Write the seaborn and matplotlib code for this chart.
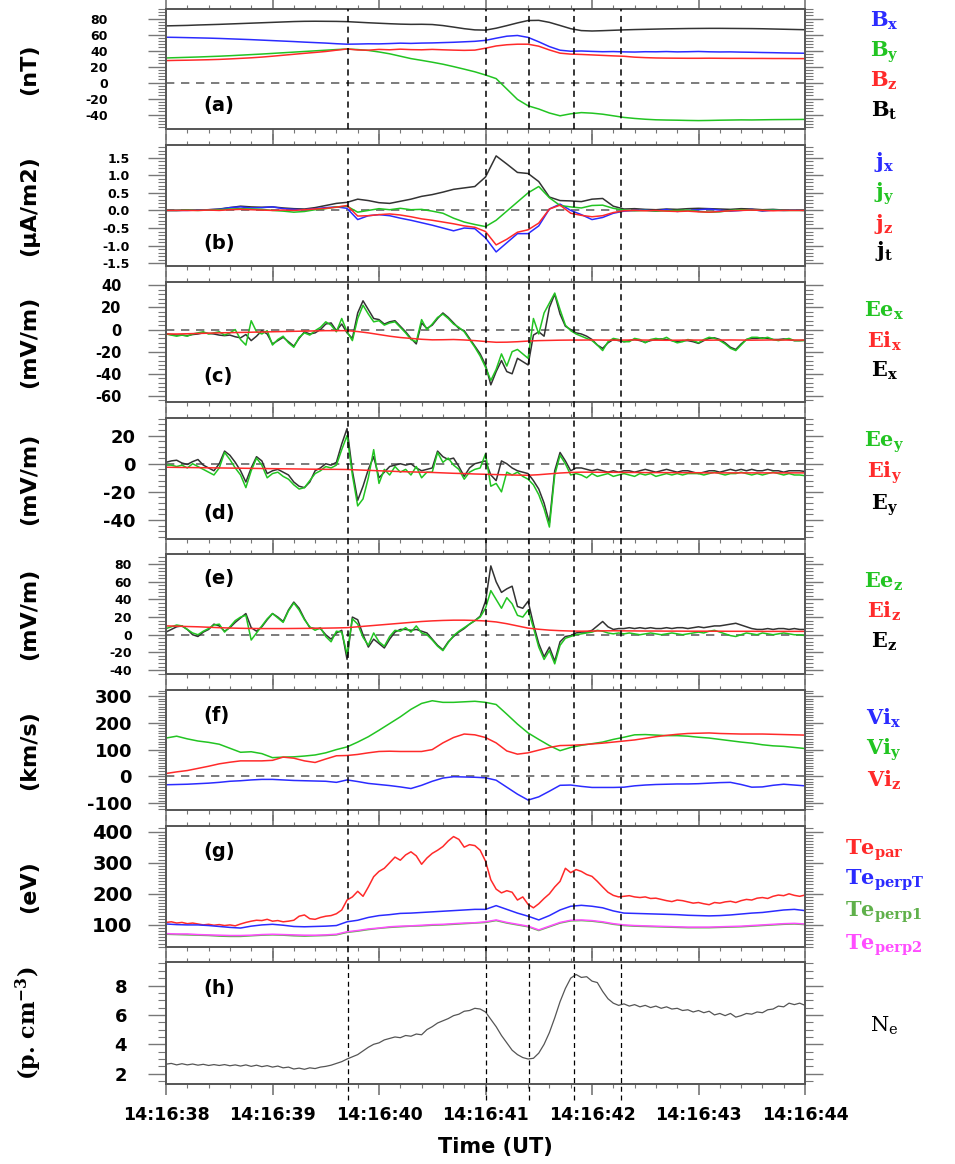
import numpy as np
import matplotlib
matplotlib.use("Agg")
import matplotlib.pyplot as plt
import seaborn as sns
from matplotlib.ticker import MultipleLocator, FixedLocator, FormatStrFormatter

# ---------------- data (time in s after 14:16:38) ----------------
t10 = np.round(np.linspace(0, 6, 61), 2)
t05 = np.round(np.linspace(0, 6, 121), 3)
time_ticks = [0, 1, 2, 3, 4, 5, 6]
time_labels = ["14:16:38", "14:16:39", "14:16:40", "14:16:41", "14:16:42", "14:16:43", "14:16:44"]
event_times = [1.71, 3.00, 3.41, 3.83, 4.27]

Bx = [56.7,56.5,56.2,55.9,55.6,55.2,54.7,54.2,53.7,53.1,52.5,51.9,51.3,50.6,50.0,49.4,48.6,48.0,48.2,48.5,
      48.4,48.8,49.3,49.0,49.4,49.6,50.0,50.4,51.0,51.6,52.8,55.5,58.0,58.9,56.5,51.0,45.0,40.5,39.2,39.5,
      39.0,38.6,38.8,38.4,38.2,38.6,38.5,38.8,38.4,38.6,38.9,38.5,38.3,38.4,38.1,37.9,37.6,37.4,37.1,36.9,36.7]
By = [30.8,31.2,31.6,32.0,32.5,33.0,33.6,34.3,35.0,35.7,36.5,37.3,38.1,38.9,39.7,40.5,41.3,42.0,41.3,40.2,
      38.3,36.0,33.0,30.0,27.8,25.5,23.0,20.0,16.8,13.5,9.5,5.0,-8.0,-21.0,-29.0,-33.0,-38.0,-41.5,-39.0,-37.5,
      -38.2,-39.5,-41.5,-43.5,-44.8,-45.8,-46.5,-46.8,-47.0,-47.3,-47.5,-47.3,-47.0,-46.8,-46.6,-46.7,-46.5,-46.3,-46.2,-46.1,-46.0]
Bz = [27.5,27.8,28.0,28.3,28.6,29.0,29.6,30.3,31.0,31.9,33.0,34.2,35.4,36.6,37.7,38.9,40.5,42.0,40.8,40.5,
      41.5,41.0,41.8,41.2,41.0,41.5,41.0,40.6,40.3,40.6,43.0,45.8,47.3,48.0,48.0,45.5,40.8,36.8,35.6,35.2,
      34.6,34.0,33.4,32.9,31.8,31.2,30.8,30.6,30.5,30.4,30.4,30.5,30.4,30.3,30.3,30.2,30.2,30.1,30.1,30.0,30.0]
Bt = [70.9,71.2,71.5,72.0,72.4,72.8,73.3,73.8,74.3,74.8,75.3,75.8,76.3,76.6,76.7,76.6,76.5,76.2,75.5,74.8,
      74.2,73.6,73.1,72.8,72.9,72.6,71.3,69.4,67.4,65.9,65.6,68.0,71.2,74.6,77.6,77.8,75.3,71.4,67.4,65.0,
      64.5,64.9,65.4,65.9,66.3,66.6,66.9,67.2,67.4,67.6,67.7,67.8,67.8,67.7,67.6,67.5,67.3,67.0,66.7,66.4,66.1]

jx = [0.00,0.00,0.00,0.01,0.02,0.03,0.08,0.10,0.07,0.08,0.10,0.05,0.03,0.02,0.05,0.08,0.10,0.06,-0.26,-0.15,
      -0.12,-0.15,-0.22,-0.28,-0.35,-0.42,-0.50,-0.58,-0.50,-0.52,-0.78,-1.18,-0.92,-0.66,-0.66,-0.44,0.04,0.18,0.00,-0.12,
      -0.26,-0.20,-0.08,-0.02,0.00,0.01,-0.02,0.03,-0.03,0.00,0.02,0.04,0.01,-0.02,0.00,0.03,-0.02,0.01,0.00,0.01,0.00]
jy = [0.00,0.00,0.01,0.00,0.01,0.02,0.04,0.05,0.04,0.03,0.00,-0.02,-0.05,-0.03,0.02,0.05,0.10,0.12,-0.05,0.00,
      0.05,0.02,0.06,0.02,0.03,-0.02,-0.08,-0.22,-0.33,-0.40,-0.46,-0.28,-0.02,0.24,0.50,0.68,0.36,0.14,0.10,0.07,
      0.14,0.15,0.06,0.01,-0.01,0.00,-0.02,-0.01,0.00,0.01,-0.03,-0.05,-0.04,0.00,0.02,0.01,0.00,0.01,0.00,0.00,0.00]
jz = [0.00,0.00,0.00,0.00,0.01,0.00,0.02,0.03,0.02,0.01,0.00,0.01,0.00,0.02,0.04,0.06,0.09,0.14,-0.16,-0.15,
      -0.12,-0.10,-0.13,-0.18,-0.24,-0.28,-0.33,-0.38,-0.44,-0.48,-0.60,-0.98,-0.82,-0.62,-0.55,-0.36,0.04,0.15,-0.08,-0.14,
      -0.18,-0.15,-0.06,-0.01,0.00,-0.01,0.00,-0.02,-0.03,-0.02,-0.04,-0.05,-0.03,-0.01,0.00,0.01,0.00,-0.01,0.00,0.00,0.00]
jt = [0.00,0.00,0.01,0.01,0.02,0.04,0.08,0.12,0.10,0.09,0.10,0.07,0.05,0.04,0.08,0.14,0.20,0.23,0.32,0.28,
      0.22,0.20,0.26,0.32,0.40,0.45,0.52,0.60,0.64,0.68,0.95,1.55,1.32,1.08,1.05,0.82,0.38,0.28,0.27,0.25,
      0.32,0.34,0.12,0.04,0.05,0.03,0.02,0.04,0.03,0.05,0.06,0.05,0.04,0.03,0.05,0.04,0.02,0.03,0.01,0.01,0.00]

Ee_x = [-4,-5,-6,-5,-6,-4,-3,-2,-4,-3, -2,-5,-3,0,-9,-14,8,-2,-4,-1, -14,-9,-6,-12,-16,-7,-3,-5,-1,2,
        7,4,-2,10,-2,-10,10,22,14,7, 8,4,6,7,2,-3,-9,-11,9,0, 5,11,14,10,5,2,-2,-9,-16,-24,
        -34,-46,-36,-22,-33,-20,-18,-22,-26,10, -4,15,24,33,18,4,-1,-4,-6,-8, -10,-14,-19,-11,-8,-9,-11,-11,-8,-9,
        -12,-9,-8,-9,-7,-10,-12,-11,-9,-10, -12,-9,-7,-8,-10,-13,-17,-19,-14,-9, -7,-7,-8,-7,-9,-10,-9,-8,-10,-10, -10]
E_x = [-4,-4.5,-5,-5,-5.5,-4.5,-4,-3,-3.5,-4, -5,-5.5,-5,-6.5,-7.5,-4.5,-10,-6,-1,-4, -13,-10,-7,-11,-15,-8,-2,-4,-3,0,
       5,6,-1,5,-3,-8,15,26,18,10, 9,5,7,8,3,-2,-8,-13,6,1, 4,10,15,11,6,1,-1,-8,-15,-22,
       -32,-50,-38,-28,-38,-40,-26,-29,-32,-5, -2,-6,20,32,14,3,0,-3,-4,-6, -9,-14,-17,-12,-9,-10,-11,-10,-9,-10,
       -11.5,-10,-9,-8.5,-9,-10,-11,-10,-10,-11, -12.5,-10,-8,-7.5,-9,-12,-16,-18,-13,-9, -8,-8,-7.5,-8,-9,-9,-8.5,-9,-10,-10, -9.6]
Ei_x = [-4.0,-4.0,-3.8,-3.5,-3.3,-3.0,-2.8,-2.6,-2.4,-2.2,-2.0,-1.8,-1.6,-1.4,-1.2,-1.0,-1.0,-1.0,-1.8,-3.0,
        -4.5,-6.0,-7.2,-8.0,-8.8,-9.3,-9.2,-9.0,-9.4,-10.0,-10.8,-11.5,-11.4,-11.0,-10.4,-10.0,-9.8,-9.6,-9.5,-9.5,
        -9.4,-9.5,-9.6,-9.5,-9.4,-9.5,-9.6,-9.7,-9.6,-9.5,-9.5,-9.6,-9.5,-9.4,-9.5,-9.6,-9.5,-9.4,-9.5,-9.5,-9.5]

Ee_y = [-1,-1,-2,-1,-3,0,-2,-4,-6,-8, -3,8,3,-3,-8,-17,-5,4,-1,-10, -7,-6,-9,-11,-15,-18,-17,-12,-7,-5,
        -2,-3,-1,10,20,-8,-30,-25,-10,10, -14,-4,-8,-2,-6,-4,-8,-2,-10,-6, -6,8,1,4,-1,-4,-11,-6,-4,-3,
        7,-16,-14,-20,-6,-8,-6,-9,-11,-15, -22,-32,-45,-8,6,0,-8,-7,-8,-10, -7,-9,-8,-7,-9,-8,-7,-8,-9,-7,
        -8,-7,-9,-8,-7,-8,-7,-8,-7,-7, -7,-8,-7,-6,-7,-8,-7,-7,-6,-7, -8,-7,-8,-7,-6,-7,-8,-7,-8,-8, -8.5]
E_y = [1,2,2.5,0.5,-0.5,1.5,3,-1,-3,-5, 0,9,6,1,-5,-13,-3,5,2,-7, -5,-4,-6,-8,-13,-16,-17,-13,-5,-3,
       0,-1,1,14,25,-5,-26,-16,-4,5, -10,-6,-2,-1,0,-1,0,-3,-5,-4, -3,9,5,3,4,-2,-9,-3,0,1,
       2,-8,-12,2,0,-3,-5,-6,-7,-12, -18,-28,-42,-5,8,2,-5,-3,-3,-4, -5,-4,-5,-6,-5,-6,-5,-5,-6,-5,
       -4,-5,-6,-5,-4,-5,-6,-5,-5,-6, -7,-6,-5,-5,-6,-5,-4,-5,-4,-5, -4,-5,-5,-4,-5,-5,-6,-5,-5,-5, -5.5]
Ei_y = [-2.5,-2.6,-2.7,-2.8,-2.9,-3.0,-3.1,-3.2,-3.3,-3.4,-3.5,-3.6,-3.7,-3.8,-3.9,-4.0,-4.0,-4.1,-4.4,-4.7,
        -5.0,-5.3,-5.6,-5.8,-6.0,-6.2,-6.5,-6.8,-7.0,-7.3,-7.5,-7.7,-7.9,-8.1,-8.2,-7.8,-7.2,-6.6,-6.2,-6.0,
        -6.0,-6.1,-6.1,-6.2,-6.2,-6.3,-6.3,-6.3,-6.4,-6.4,-6.4,-6.5,-6.5,-6.5,-6.5,-6.5,-6.5,-6.5,-6.5,-6.5,-6.5]

Ee_z = [7,9,11,10,6,2,0,4,7,11, 12,3,9,16,20,22,-6,2,10,18, 24,19,14,27,36,28,17,9,5,8,
        -2,-8,4,3,-22,18,12,-3,-12,2, -8,-13,-2,5,4,8,3,10,2,0, -6,-13,-18,-9,-1,4,8,12,16,20,
        30,50,40,30,42,35,22,20,28,8, -14,-28,-18,-33,-12,-4,-2,0,1,2, 3,5,4,2,1,2,1,2,1,0,
        1,2,1,0,1,2,1,0,1,2, 3,2,4,5,3,1,-1,-2,0,2, 1,0,2,1,0,1,2,1,0,0, -1]
E_z = [3,6,9,10,6,0,-2,3,6,12, 10,4,8,14,19,24,8,4,9,17, 24,20,15,28,37,30,18,8,7,7,
       0,-5,2,5,-28,20,17,0,-14,-5, -10,-15,-5,3,6,6,5,6,4,2, -5,-12,-17,-8,-2,3,7,12,16,21,
       38,78,60,48,52,55,32,30,38,12, -10,-25,-14,-30,-8,-2,-1,2,3,3, 5,10,15,9,6,7,7,8,7,8,
       7,8,7,7,8,7,8,8,7,8, 9,8,9,10,10,11,12,13,11,9, 7,6,6,7,6,7,7,6,7,6, 6]
Ei_z = [10.0,9.7,9.3,9.0,8.5,8.0,7.6,7.3,7.1,7.0,7.0,7.0,7.1,7.2,7.3,7.5,7.7,8.0,9.0,10.0,
        11.0,12.0,13.0,14.0,15.0,15.7,16.2,16.5,16.5,16.2,15.6,14.5,12.5,10.0,7.5,6.2,5.2,4.6,4.2,4.0,
        4.2,4.4,4.5,4.4,4.3,4.2,4.2,4.1,4.1,4.0,4.0,4.0,4.0,3.9,3.9,3.9,3.8,3.8,3.8,3.8,3.8]

Vi_x = [-31,-30,-29,-27,-25,-22,-18,-16,-13,-11,-11,-13,-15,-16,-17,-18,-22,-13,-19,-26,
        -30,-34,-39,-45,-33,-18,-6,-1,-2,-3,-5,-14,-40,-66,-88,-76,-55,-33,-32,-37,
        -41,-41,-41,-40,-35,-32,-30,-29,-28,-28,-27,-25,-23,-22,-30,-40,-39,-33,-29,-32,-35]
Vi_y = [143,150,140,132,127,120,105,90,92,85,70,72,73,76,80,88,100,110,128,148,
        172,197,222,250,272,282,276,276,278,280,276,268,232,195,162,138,115,96,108,116,
        122,128,138,146,155,156,154,152,152,150,146,143,138,133,128,124,118,114,112,108,104]
Vi_z = [11,17,22,30,38,47,53,58,58,58,60,72,68,58,52,65,77,78,82,88,
        93,94,93,93,93,100,125,145,158,155,145,125,95,83,88,98,108,115,116,118,
        121,124,128,132,136,142,148,153,157,160,161,162,160,159,158,158,158,157,156,155,154]

Te_par = [108,110,106,108,104,106,103,100,102,99, 101,98,100,97,103,108,112,115,114,118,
          112,114,110,112,115,128,132,120,118,124, 128,130,136,148,180,190,208,192,222,255,
          272,282,300,318,308,325,335,322,295,315, 330,340,352,370,384,375,350,358,355,340,
          305,245,215,203,210,205,180,190,166,155, 168,185,200,222,240,282,268,278,272,262,
          256,240,222,205,195,190,192,194,190,188, 190,185,186,182,178,175,180,178,174,170,
          172,168,165,172,170,174,176,172,178,182, 180,186,188,185,192,196,194,200,195,192, 196]
Te_perpT = [103,101,100,100,98,95,92,90,96,100,102,99,95,94,95,96,98,110,115,124,
            130,133,137,138,140,142,144,146,148,150,150,162,150,138,128,116,130,148,160,163,
            160,155,145,138,137,136,135,134,133,131,130,129,130,132,135,138,140,144,148,150,146]
Te_perp1 = [70,69,68,67,66,64,63,63,65,67,68,67,65,64,65,66,68,76,80,85,
            89,92,94,96,97,99,100,102,104,106,108,114,106,100,94,82,94,106,113,114,
            112,108,102,98,96,95,94,93,92,91,91,91,92,93,94,96,98,100,102,103,101]
Te_perp2 = [72,71,71,69,68,67,66,66,67,69,70,69,68,67,67,68,70,78,82,87,
            90,94,96,97,99,101,102,104,106,107,110,116,108,102,96,84,96,108,115,116,
            114,110,104,100,98,97,96,95,94,93,93,93,94,95,96,98,100,102,104,105,103]

Ne = [2.65,2.7,2.6,2.68,2.6,2.66,2.58,2.64,2.56,2.62, 2.56,2.62,2.54,2.6,2.52,2.6,2.5,2.58,2.48,2.55,
      2.45,2.52,2.4,2.45,2.32,2.38,2.3,2.4,2.35,2.45, 2.5,2.58,2.7,2.82,3.0,3.15,3.3,3.55,3.8,4.0,
      4.1,4.3,4.4,4.5,4.45,4.6,4.55,4.7,4.65,5.0, 5.2,5.45,5.6,5.75,5.95,6.05,6.25,6.3,6.45,6.4,
      6.2,5.7,5.2,4.6,4.1,3.6,3.3,3.1,3.0,3.05, 3.4,4.0,4.8,5.8,6.9,7.8,8.5,8.75,8.55,8.6,
      8.3,8.2,7.6,7.1,6.8,6.65,6.75,6.6,6.7,6.55, 6.65,6.5,6.6,6.45,6.55,6.4,6.45,6.3,6.35,6.2,
      6.3,6.15,6.25,6.0,6.1,5.95,6.1,5.85,5.95,6.1, 6.05,6.2,6.15,6.35,6.4,6.6,6.55,6.8,6.7,6.8, 6.65]

# ---------------- styling ----------------
sns.set_theme(style="white")
plt.rcParams["font.family"] = ["DejaVu Sans"]
plt.rcParams["mathtext.fontset"] = "dejavuserif"
plt.rcParams["axes.unicode_minus"] = False
plt.rcParams["text.color"] = "black"

BLUE, GREEN, RED, BLACK = "#2b2bff", "#22c422", "#ff2a2a", "#333333"
OLIVE, MAGENTA = "#5fb04a", "#ff4dff"
SPINE = "#555555"

W, H = 955, 1164
fig = plt.figure(figsize=(W / 100, H / 100), dpi=100)
boxes = [(9, 129), (145, 266), (282, 402), (418, 539), (554, 674), (690, 810), (826, 947), (962, 1084)]
L, R = 166, 805
axes = [fig.add_axes([L / W, 1 - b / H, (R - L) / W, (b - t) / H]) for t, b in boxes]

def draw(ax, x, y, color, lw=1.1, z=2):
    sns.lineplot(x=x, y=y, ax=ax, color=color, linewidth=lw, estimator=None,
                 sort=False, legend=False, zorder=z)

a, b, c, d, e, f, g, h = axes
draw(a, t10, Bt, BLACK); draw(a, t10, Bx, BLUE); draw(a, t10, By, GREEN); draw(a, t10, Bz, RED)
draw(b, t10, jt, BLACK); draw(b, t10, jx, BLUE); draw(b, t10, jy, GREEN); draw(b, t10, jz, RED)
draw(c, t05, E_x, BLACK); draw(c, t05, Ee_x, GREEN); draw(c, t10, Ei_x, RED)
draw(d, t05, E_y, BLACK); draw(d, t05, Ee_y, GREEN); draw(d, t10, Ei_y, RED)
draw(e, t05, E_z, BLACK); draw(e, t05, Ee_z, GREEN); draw(e, t10, Ei_z, RED)
draw(f, t10, Vi_x, BLUE); draw(f, t10, Vi_y, GREEN); draw(f, t10, Vi_z, RED)
draw(g, t05, Te_par, RED); draw(g, t10, Te_perpT, BLUE); draw(g, t10, Te_perp1, OLIVE); draw(g, t10, Te_perp2, MAGENTA)
draw(h, t05, Ne, "#555555", lw=0.9)

cfg = [
    dict(ylim=(-58, 92), ticks=[-40, -20, 0, 20, 40, 60, 80], minor=4, fs=9, pad=29, fmt="%d", lab="(nT)", pl="(a)", py=0.2, zero=True),
    dict(ylim=(-1.58, 1.86), ticks=[-1.5, -1.0, -0.5, 0.0, 0.5, 1.0, 1.5], minor=0.1, fs=9, pad=13, fmt="%.1f", lab="(μA/m2)", pl="(b)", py=0.19, zero=True),
    dict(ylim=(-65.5, 43), ticks=[-60, -40, -20, 0, 20, 40], minor=4, fs=10.5, pad=19, fmt="%d", lab="(mV/m)", pl="(c)", py=0.21, zero=True),
    dict(ylim=(-53.5, 32.5), ticks=[-40, -20, 0, 20], minor=4, fs=13, pad=9, fmt="%d", lab="(mV/m)", pl="(d)", py=0.21, zero=True),
    dict(ylim=(-44.5, 91.5), ticks=[-40, -20, 0, 20, 40, 60, 80], minor=4, fs=9, pad=11.5, fmt="%d", lab="(mV/m)", pl="(e)", py=0.8, zero=True),
    dict(ylim=(-125, 322), ticks=[-100, 0, 100, 200, 300], minor=10, fs=13, pad=11.5, fmt="%d", lab="(km/s)", pl="(f)", py=0.79, zero=True),
    dict(ylim=(29, 418), ticks=[100, 200, 300, 400], minor=10, fs=14, pad=11, fmt="%d", lab="(eV)", pl="(g)", py=0.79, zero=False),
    dict(ylim=(1.3, 9.6), ticks=[2, 4, 6, 8], minor=0.5, fs=13, pad=15, fmt="%d", lab=None, pl="(h)", py=0.78, zero=False),
]

for i, (ax, cf) in enumerate(zip(axes, cfg)):
    ax.set_xlim(0, 6)
    ax.set_ylim(*cf["ylim"])
    ax.xaxis.set_major_locator(FixedLocator(time_ticks))
    ax.xaxis.set_minor_locator(MultipleLocator(0.2))
    ax.yaxis.set_major_locator(FixedLocator(cf["ticks"]))
    ax.yaxis.set_minor_locator(MultipleLocator(cf["minor"]))
    ax.yaxis.set_major_formatter(FormatStrFormatter(cf["fmt"]))
    ax.tick_params(which="both", direction="out", left=True, right=True, top=True, bottom=True,
                   colors="#777777", labelcolor="black")
    ax.tick_params(axis="y", which="major", length=13, width=1.0, pad=cf["pad"], labelsize=cf["fs"])
    ax.tick_params(axis="y", which="minor", length=6, width=0.8)
    ax.tick_params(axis="x", which="major", length=8, width=1.2)
    ax.tick_params(axis="x", which="minor", length=3, width=0.8)
    for lbl in ax.get_yticklabels():
        lbl.set_fontweight("bold")
    for sp in ax.spines.values():
        sp.set_color(SPINE)
        sp.set_linewidth(1.4)
    ax.set_xlabel("")
    ax.set_ylabel("")
    if i < 7:
        ax.tick_params(axis="x", labelbottom=False)
    else:
        ax.set_xticklabels(time_labels)
        ax.tick_params(axis="x", labelsize=12.5, pad=8)
        for lbl in ax.get_xticklabels():
            lbl.set_fontweight("bold")
    if cf["zero"]:
        ax.axhline(0, color="#666666", lw=1.2, ls=(0, (5, 4)), zorder=1)
    ymin = 0 if i == 0 else -0.132
    for te in event_times:
        ax.axvline(te, ymin=ymin, ymax=1.0, color="black", lw=1.1 if i < 7 else 0.9,
                   ls=(0, (4, 3)), clip_on=False, zorder=5)
    ax.text(0.058, cf["py"], cf["pl"], transform=ax.transAxes, ha="left", va="center",
            fontsize=14, fontweight="bold", color="black")
    if cf["lab"]:
        ax.text(-0.2144, 0.5, cf["lab"], transform=ax.transAxes, rotation=90, ha="center",
                va="center", fontsize=16, fontweight="bold", color="black")

h.text(-0.2144, 0.5, r"(p. cm$^{\mathbf{-3}}$)", transform=h.transAxes, rotation=90, ha="center",
       va="center", fontsize=16, fontweight="bold", family="DejaVu Serif", color="black")

fig.text(495 / W, 1 - 1147 / H, "Time (UT)", ha="center", va="center", fontsize=15,
         fontweight="bold", color="black")

# ---------------- right-hand colored labels ----------------
def lab(xpx, ypx, s, color, ha="center", size=15):
    fig.text(xpx / W, 1 - ypx / H, s, color=color, ha=ha, va="baseline", fontsize=size)

for ypx, s, col in [(27, r"$\mathbf{B_x}$", BLUE), (57, r"$\mathbf{B_y}$", GREEN),
                    (87, r"$\mathbf{B_z}$", RED), (117, r"$\mathbf{B_t}$", "black")]:
    lab(884, ypx, s, col)
for ypx, s, col in [(168, r"$\mathbf{j_x}$", BLUE), (199, r"$\mathbf{j_y}$", GREEN),
                    (230, r"$\mathbf{j_z}$", RED), (257, r"$\mathbf{j_t}$", "black")]:
    lab(884, ypx, s, col)
for comp, ys in [("x", (317, 348, 377)), ("y", (447, 478, 510)), ("z", (588, 618, 648))]:
    lab(884, ys[0], r"$\mathbf{Ee_%s}$" % comp, GREEN)
    lab(884, ys[1], r"$\mathbf{Ei_%s}$" % comp, RED)
    lab(884, ys[2], r"$\mathbf{E_%s}$" % comp, "black")
for ypx, s, col in [(725, r"$\mathbf{Vi_x}$", BLUE), (755, r"$\mathbf{Vi_y}$", GREEN),
                    (787, r"$\mathbf{Vi_z}$", RED)]:
    lab(884, ypx, s, col)
for ypx, s, col in [(855, r"$\mathbf{Te_{par}}$", RED), (885, r"$\mathbf{Te_{perpT}}$", BLUE),
                    (917, r"$\mathbf{Te_{perp1}}$", OLIVE), (950, r"$\mathbf{Te_{perp2}}$", MAGENTA)]:
    lab(845, ypx, s, col, ha="left")
lab(884, 1032, r"$\mathrm{N_e}$", "black")

fig.savefig("out.png", dpi=100)
